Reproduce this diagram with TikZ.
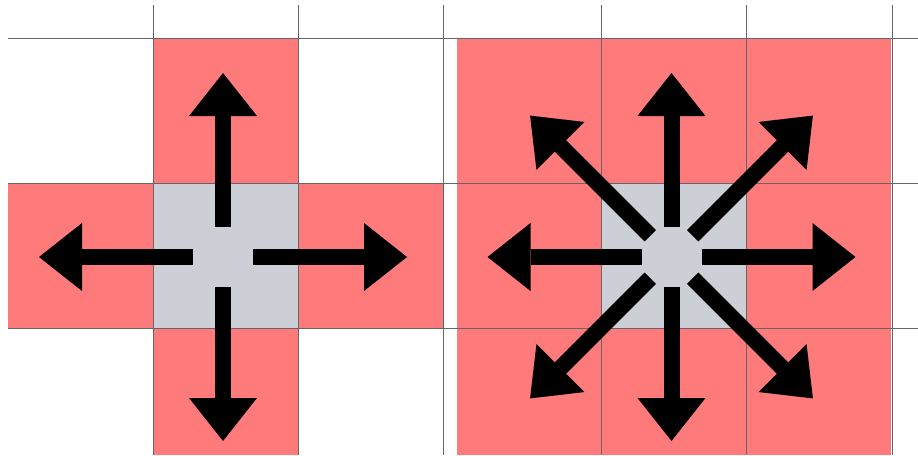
\documentclass[tikz,border=0pt]{standalone}
\usepackage{tikz}
\usetikzlibrary{arrows.meta, calc}
\definecolor{cellred}{RGB}{255,122,122}
\definecolor{cellgray}{RGB}{204,207,214}
\tikzset{
  redcell/.style  = {rectangle, draw=none, fill=cellred, inner sep=0pt,
                     minimum width=145pt, minimum height=145pt},
  graycell/.style = {redcell, fill=cellgray},
  gridline/.style = {black!60, line width=0.8pt},
  bigarrow/.style = {-{Triangle[length=43pt, width=68pt, line width=0pt]},
                     line width=16pt, black},
}
\begin{document}
\begin{tikzpicture}[x=1pt, y=-1pt]
  \useasboundingbox (0,0) rectangle (918,455);

  % 4-neighbourhood (left)
  \node[redcell]  (ltop)  at (225.5,110.5) {};
  \node[redcell]  (lleft) at (80.5,255.5)  {};
  \node[redcell]  (lright) at (370.5,255.5) {};
  \node[redcell, minimum height=127pt] (lbot) at (225.5,391.5) {};
  \node[graycell] (lmid)  at (225.5,255.5) {};

  % 8-neighbourhood (right)
  \node[redcell, minimum width=434pt, minimum height=417pt] (rblock) at (674,246.5) {};
  \node[graycell] (rmid)  at (673.5,255.5) {};

  % grid
  \foreach \x in {153,298,443,601,746,892}
    \draw[gridline] (\x,5) -- (\x,455);
  \foreach \y in {38,183,328}
    \draw[gridline] (8,\y) -- (918,\y);

  % arrows
  \coordinate (c4) at (223,257);
  \coordinate (c8) at (671.5,257);
  \foreach \a in {0,90,180,270}
    \draw[bigarrow] ($(c4)+(\a:30)$) -- ($(c4)+(\a:184)$);
  \foreach \a in {0,90,180,270}
    \draw[bigarrow] ($(c8)+(\a:30)$) -- ($(c8)+(\a:184)$);
  \foreach \a in {45,135,225,315}
    \draw[bigarrow] ($(c8)+(\a:30)$) -- ($(c8)+(\a:200)$);

\end{tikzpicture}
\end{document}
